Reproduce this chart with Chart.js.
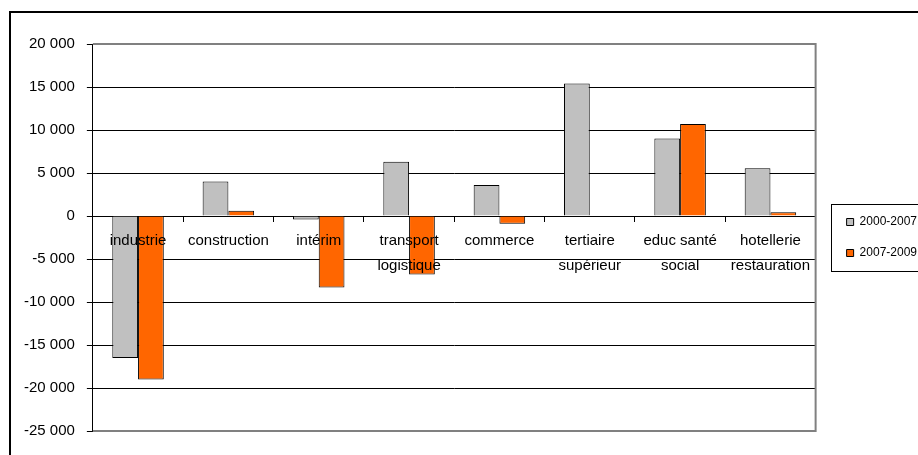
<!DOCTYPE html>
<html>
<head>
<meta charset="utf-8">
<script src="https://cdn.jsdelivr.net/npm/chart.js@4"></script>
<style>
  html, body { margin: 0; padding: 0; background: #fff; overflow: hidden; }
  body { width: 918px; height: 455px; position: relative; }
  #cadre { position: absolute; left: 9px; top: 11px; width: 1000px; height: 600px; border: 2px solid #000; box-sizing: border-box; }
  #graf { position: absolute; left: 0; top: 0; }
</style>
</head>
<body>
<div id="cadre"></div>
<canvas id="graf" width="960" height="455"></canvas>
<script>
// secteurs
const secteurs = [
  'industrie', 'construction', 'intérim', ['transport', 'logistique'], 'commerce',
  ['tertiaire', 'supérieur'], ['educ santé', 'social'], ['hotellerie', 'restauration']
];

// variation de l'emploi
const periode1 = '2000-2007';
const periode2 = '2007-2009';
const valeurs1 = [-16500, 4000, -400, 6300, 3600, 15400, 9000, 5550];
const valeurs2 = [-19000, 600, -8300, -6800, -900, 0, 10700, 450];

const yMin = -25000;
const yMax = 20000;
const yPas = 5000;

function formatNb(v) {
  let s = String(Math.abs(v)).replace(/\B(?=(\d{3})+(?!\d))/g, ' ');
  return (v < 0 ? '-' : '') + s;
}

// cadre du plot et de la legende
const bordures = {
  id: 'bordures',
  afterLayout(chart) {
    // la legende est un peu detachee du graphique
    chart.legend.left += 12;
    chart.legend.right += 12;
  },
  afterDraw(chart) {
    const ctx = chart.ctx;
    const a = chart.chartArea;
    ctx.save();
    ctx.strokeStyle = '#808080';
    ctx.lineWidth = 2;
    ctx.beginPath();
    ctx.moveTo(a.left, a.top);
    ctx.lineTo(a.right, a.top);
    ctx.lineTo(a.right, a.bottom);
    ctx.lineTo(a.left, a.bottom);
    ctx.stroke();

    let hb = chart.legend.legendHitBoxes;
    if (hb && hb.length) {
      let x0 = hb[0].left - 16;
      let y0 = hb[0].top - 12;
      let y1 = hb[hb.length - 1].top + hb[hb.length - 1].height + 12;
      ctx.strokeStyle = '#000';
      ctx.lineWidth = 1;
      ctx.strokeRect(Math.round(x0) + 0.5, Math.round(y0) + 0.5, 200, Math.round(y1 - y0));
    }
    ctx.restore();
  }
};

const grafica = document.getElementById('graf').getContext('2d');

new Chart(grafica, {
  type: 'bar',
  data: {
    labels: secteurs,
    datasets: [{
      label: periode1,
      data: valeurs1,
      backgroundColor: '#C0C0C0',
      borderColor: '#000',
      borderWidth: 1,
      barPercentage: 1,
      categoryPercentage: 0.57
    }, {
      label: periode2,
      data: valeurs2,
      backgroundColor: '#FF6600',
      borderColor: '#000',
      borderWidth: 1,
      barPercentage: 1,
      categoryPercentage: 0.57
    }]
  },
  options: {
    responsive: false,
    animation: false,
    layout: { padding: { top: 44, left: 12, bottom: 24, right: 45 } },
    plugins: {
      tooltip: { enabled: false },
      legend: {
        position: 'right',
        labels: {
          color: '#000',
          boxWidth: 7,
          boxHeight: 7,
          padding: 19,
          font: { size: 12, family: 'Liberation Sans' }
        }
      }
    },
    scales: {
      x: {
        position: { y: 0 },
        grid: {
          drawOnChartArea: false,
          drawTicks: true,
          tickLength: 5,
          color: '#000',
          offset: true
        },
        border: { color: '#000', width: 1 },
        ticks: {
          z: 1,
          color: '#000',
          padding: 7,
          maxRotation: 0,
          autoSkip: false,
          font: { size: 15, family: 'Liberation Sans', lineHeight: 1.7 }
        }
      },
      y: {
        min: yMin,
        max: yMax,
        ticks: {
          stepSize: yPas,
          color: '#000',
          padding: 12,
          font: { size: 15, family: 'Liberation Sans' },
          callback: v => formatNb(v)
        },
        grid: {
          color: ctx => (ctx.tick && (ctx.tick.value === yMin || ctx.tick.value === yMax)) ? '#808080' : '#000',
          tickLength: 6,
          tickColor: '#000'
        },
        border: { color: '#000', width: 1 }
      }
    }
  },
  plugins: [bordures]
});
</script>
</body>
</html>
